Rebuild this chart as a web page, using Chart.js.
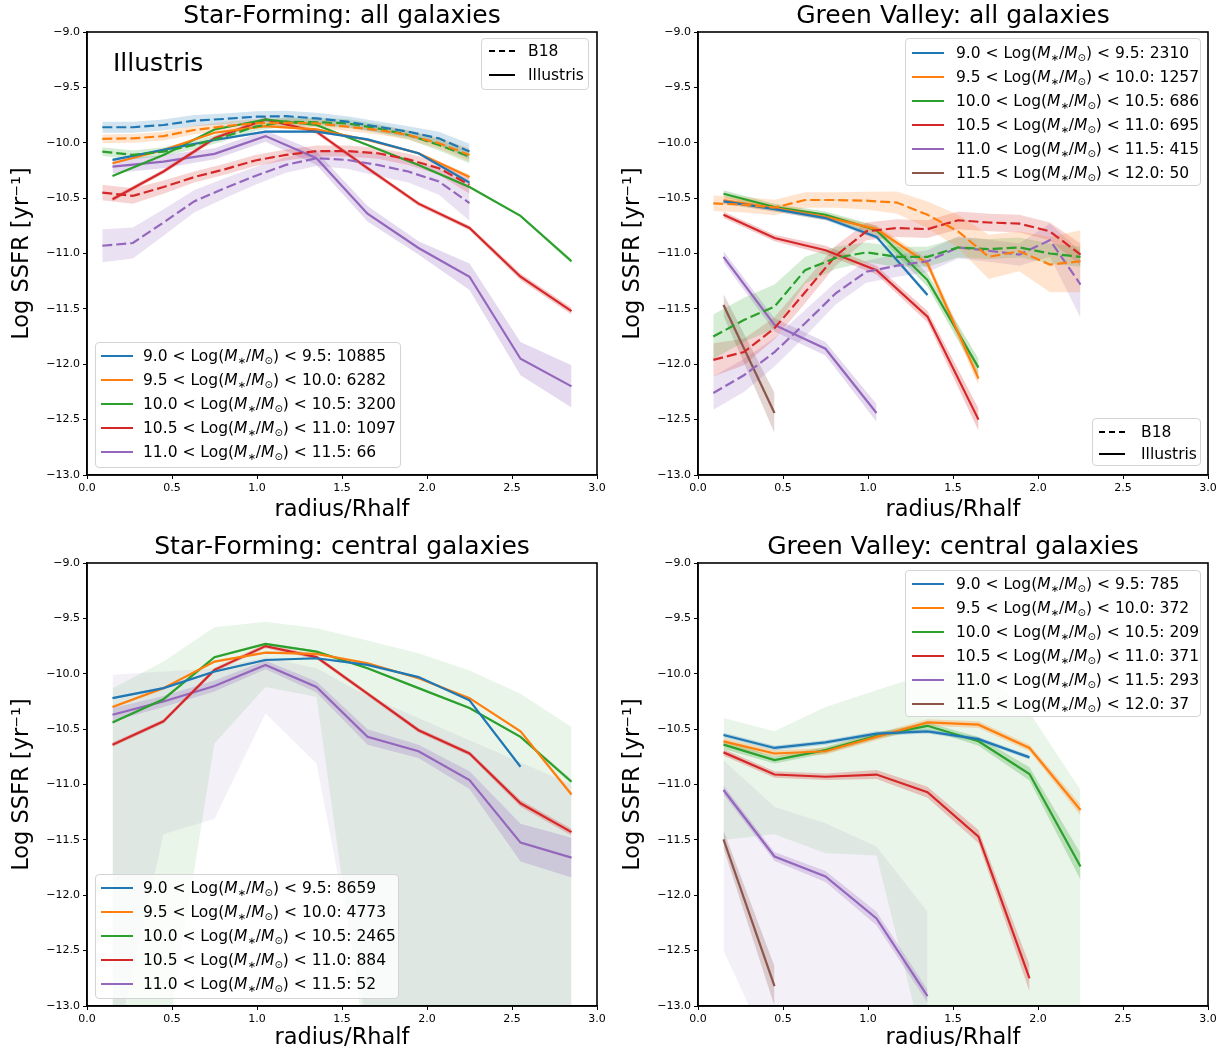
<!DOCTYPE html>
<html>
<head>
<meta charset="utf-8">
<script src="https://cdn.jsdelivr.net/npm/chart.js@4.4.1/dist/chart.umd.min.js"></script>
<style>
  body { margin: 0; background: #fff; font-family: "DejaVu Sans", sans-serif; }
  #wrap { position: relative; width: 1231px; height: 1055px; overflow: hidden; }
  canvas { position: absolute; }
  .leg { position: absolute; border: 1px solid #d4d4d4; border-radius: 4px; background: rgba(255,255,255,0.8);
         font-size: 15.5px; color: #000; box-sizing: border-box; z-index: 5; }
  .row { position: absolute; left: 0; height: 24px; line-height: 24px; white-space: nowrap; }
  .sw { position: absolute; top: 11px; height: 0; }
  .tx { position: absolute; top: 0; }
  sub { font-size: 10px; vertical-align: -3px; line-height: 0; }
  .note { position: absolute; left: 113px; top: 48px; font-size: 25px; z-index: 5; }
</style>
</head>
<body>
<div id="wrap">
  <canvas id="tl" width="615" height="527" style="left:0;top:0"></canvas>
  <canvas id="tr" width="620" height="527" style="left:611px;top:0"></canvas>
  <canvas id="bl" width="615" height="527" style="left:0;top:528px"></canvas>
  <canvas id="br" width="620" height="527" style="left:611px;top:528px"></canvas>
  <div class="note">Illustris</div>
</div>
<script>
// radial bins
const rIll = [0.15, 0.45, 0.75, 1.05, 1.35, 1.65, 1.95, 2.25, 2.55, 2.85];
const rB18 = [0.09, 0.27, 0.45, 0.63, 0.81, 0.99, 1.17, 1.35, 1.53, 1.71, 1.89, 2.07, 2.25];

const colors = ["#1f77b4", "#ff7f0e", "#2ca02c", "#d62728", "#9467bd", "#8c564b"];
const massLo = ["9.0", "9.5", "10.0", "10.5", "11.0", "11.5"];
const massHi = ["9.5", "10.0", "10.5", "11.0", "11.5", "12.0"];

// counts per panel
const sfAllCounts = [10885, 6282, 3200, 1097, 66];
const gvAllCounts = [2310, 1257, 686, 695, 415, 50];
const sfCenCounts = [8659, 4773, 2465, 884, 52];
const gvCenCounts = [785, 372, 209, 371, 293, 37];

// Star-Forming: all galaxies
const sfAllB18 = [
  [-9.86, -9.86, -9.84, -9.80, -9.785, -9.765, -9.76, -9.78, -9.81, -9.855, -9.90, -9.96, -10.08],
  [-9.965, -9.96, -9.94, -9.885, -9.85, -9.825, -9.82, -9.825, -9.855, -9.885, -9.93, -10.005, -10.11],
  [-10.08, -10.11, -10.08, -10.02, -9.945, -9.855, -9.81, -9.815, -9.825, -9.87, -9.93, -10.02, -10.125],
  [-10.45, -10.48, -10.40, -10.31, -10.24, -10.16, -10.11, -10.075, -10.075, -10.095, -10.15, -10.23, -10.38],
  [-10.93, -10.905, -10.72, -10.53, -10.41, -10.30, -10.20, -10.14, -10.155, -10.20, -10.26, -10.35, -10.545]
];
const sfAllB18Err = [
  [0.05, 0.05, 0.05, 0.05, 0.05, 0.05, 0.05, 0.05, 0.05, 0.05, 0.05, 0.06, 0.07],
  [0.04, 0.04, 0.04, 0.04, 0.04, 0.04, 0.04, 0.04, 0.04, 0.04, 0.04, 0.05, 0.06],
  [0.04, 0.04, 0.04, 0.04, 0.04, 0.04, 0.04, 0.04, 0.04, 0.04, 0.04, 0.05, 0.06],
  [0.07, 0.07, 0.06, 0.05, 0.05, 0.05, 0.05, 0.05, 0.05, 0.05, 0.05, 0.06, 0.08],
  [0.15, 0.14, 0.12, 0.10, 0.09, 0.08, 0.07, 0.07, 0.08, 0.10, 0.10, 0.12, 0.16]
];
const sfAllIll = [
  [-10.155, -10.065, -9.975, -9.90, -9.90, -9.97, -10.095, -10.36],
  [-10.185, -10.065, -9.91, -9.85, -9.88, -9.975, -10.095, -10.31],
  [-10.30, -10.11, -9.88, -9.79, -9.84, -10.02, -10.20, -10.40, -10.66, -11.07],
  [-10.51, -10.26, -9.96, -9.79, -9.90, -10.23, -10.55, -10.77, -11.21, -11.52],
  [-10.215, -10.17, -10.10, -9.94, -10.14, -10.64, -10.95, -11.21, -11.95, -12.20]
];
const sfAllIllErr = [
  [0.01, 0.01, 0.01, 0.01, 0.01, 0.01, 0.01, 0.02],
  [0.01, 0.01, 0.01, 0.01, 0.01, 0.01, 0.01, 0.02],
  [0.01, 0.01, 0.01, 0.01, 0.01, 0.01, 0.01, 0.01, 0.01, 0.02],
  [0.02, 0.02, 0.02, 0.02, 0.02, 0.02, 0.02, 0.02, 0.03, 0.03],
  [0.06, 0.06, 0.05, 0.05, 0.06, 0.07, 0.06, 0.12, 0.15, 0.19]
];

// Green Valley: all galaxies
const gvAllB18 = [
  null,
  [-10.547, -10.56, -10.585, -10.517, -10.517, -10.523, -10.54, -10.65, -10.80, -11.03, -10.98, -11.10, -11.07],
  [-11.75, -11.60, -11.48, -11.15, -11.04, -10.99, -11.03, -11.03, -10.945, -10.96, -10.945, -11.00, -11.03],
  [-11.96, -11.89, -11.675, -11.35, -11.02, -10.80, -10.77, -10.78, -10.70, -10.72, -10.73, -10.80, -11.01],
  [-12.26, -12.10, -11.89, -11.63, -11.36, -11.165, -11.11, -11.07, -10.945, -10.975, -11.01, -10.88, -11.28]
];
const gvAllB18Err = [
  null,
  [0.07, 0.07, 0.07, 0.07, 0.07, 0.08, 0.10, 0.12, 0.15, 0.20, 0.18, 0.25, 0.28],
  [0.20, 0.20, 0.20, 0.12, 0.10, 0.09, 0.09, 0.09, 0.09, 0.09, 0.09, 0.09, 0.09],
  [0.15, 0.12, 0.10, 0.10, 0.09, 0.08, 0.08, 0.08, 0.08, 0.08, 0.08, 0.08, 0.10],
  [0.15, 0.15, 0.13, 0.12, 0.10, 0.10, 0.10, 0.10, 0.10, 0.10, 0.10, 0.15, 0.30]
];
const gvAllIll = [
  [-10.53, -10.60, -10.68, -10.85, -11.375],
  [-10.52, -10.59, -10.67, -10.78, -11.09, -12.13],
  [-10.46, -10.58, -10.65, -10.79, -11.24, -12.03],
  [-10.65, -10.86, -10.97, -11.15, -11.57, -12.50],
  [-11.03, -11.645, -11.86, -12.44],
  [-11.465, -12.44]
];
const gvAllIllErr = [
  [0.02, 0.02, 0.02, 0.02, 0.02],
  [0.03, 0.03, 0.03, 0.03, 0.04, 0.06],
  [0.03, 0.03, 0.03, 0.04, 0.06, 0.08],
  [0.03, 0.03, 0.04, 0.04, 0.05, 0.10],
  [0.05, 0.06, 0.06, 0.08],
  [0.10, 0.18]
];

// Star-Forming: central galaxies
const sfCenIll = [
  [-10.22, -10.13, -9.98, -9.876, -9.86, -9.92, -10.03, -10.24, -10.84],
  [-10.30, -10.13, -9.89, -9.81, -9.82, -9.905, -10.04, -10.22, -10.52, -11.09],
  [-10.44, -10.23, -9.85, -9.73, -9.80, -9.95, -10.13, -10.31, -10.57, -10.975],
  [-10.64, -10.43, -9.965, -9.75, -9.85, -10.18, -10.51, -10.72, -11.17, -11.43],
  [-10.37, -10.25, -10.11, -9.92, -10.12, -10.57, -10.70, -10.96, -11.525, -11.66]
];
const sfCenIllErr = [
  [0.01, 0.01, 0.01, 0.01, 0.01, 0.01, 0.01, 0.01, 0.01],
  [0.01, 0.01, 0.01, 0.01, 0.01, 0.01, 0.01, 0.01, 0.01, 0.02],
  [0.01, 0.01, 0.01, 0.01, 0.01, 0.01, 0.01, 0.01, 0.01, 0.02],
  [0.02, 0.02, 0.02, 0.02, 0.02, 0.02, 0.02, 0.02, 0.03, 0.03],
  [0.06, 0.05, 0.05, 0.04, 0.05, 0.07, 0.06, 0.08, 0.17, 0.18]
];
const sfCenGreenHi = [-10.13, -9.89, -9.58, -9.53, -9.59, -9.70, -9.815, -9.97, -10.18, -10.48];
const sfCenGreenLo = [-13.5, -13.5, -10.63, -10.12, -10.21, -13.5, -13.5, -13.5, -13.5, -13.5];
const sfCenPurpleHi = [-10.01, -9.98, -9.95, -9.85, -9.95, -10.2, -10.4, -10.6, -10.8, -11.0];
const sfCenPurpleLo = [-13.5, -11.45, -11.31, -10.36, -10.81, -13.2, -13.5, -13.5, -13.5, -13.5];

// Green Valley: central galaxies
const gvCenIll = [
  [-10.553, -10.67, -10.62, -10.54, -10.52, -10.59, -10.755],
  [-10.61, -10.72, -10.70, -10.57, -10.44, -10.46, -10.67, -11.23],
  [-10.64, -10.78, -10.69, -10.56, -10.47, -10.61, -10.905, -11.74],
  [-10.71, -10.91, -10.93, -10.91, -11.07, -11.47, -12.75],
  [-11.05, -11.65, -11.83, -12.21, -12.91],
  [-11.495, -12.82]
];
const gvCenIllErr = [
  [0.02, 0.02, 0.02, 0.02, 0.02, 0.02, 0.02],
  [0.03, 0.03, 0.03, 0.03, 0.03, 0.03, 0.03, 0.05],
  [0.04, 0.03, 0.03, 0.03, 0.03, 0.04, 0.06, 0.12],
  [0.03, 0.03, 0.03, 0.04, 0.05, 0.06, 0.12],
  [0.04, 0.04, 0.05, 0.06, 0.06],
  [0.08, 0.18]
];
const gvCenGreenHi = [-10.40, -10.52, -10.30, -10.15, -10.0, -9.95, -10.35, -11.05];
const gvCenGreenLo = [-11.5, -11.45, -11.62, -11.64, -13.5, -13.5, -13.5, -13.5];
const gvCenPurpleHi = [-10.78, -11.2, -11.35, -11.56, -12.15];
const gvCenPurpleLo = [-12.5, -13.5, -13.5, -13.5, -13.5];

const FONT = "DejaVu Sans";

function pts(xs, ys) {
  return ys.map((y, i) => ({ x: xs[i], y: y }));
}

function rgba(hex, a) {
  const n = parseInt(hex.slice(1), 16);
  return "rgba(" + (n >> 16) + "," + ((n >> 8) & 255) + "," + (n & 255) + "," + a + ")";
}

function band(xs, lo, hi, color, alpha, order) {
  return [
    { data: pts(xs, lo), borderWidth: 0, pointRadius: 0, fill: false, order: order },
    { data: pts(xs, hi), borderWidth: 0, pointRadius: 0, fill: "-1",
      backgroundColor: rgba(color, alpha), order: order }
  ];
}

function errBand(xs, ys, err, color, alpha) {
  const lo = ys.map((y, i) => y - err[i]);
  const hi = ys.map((y, i) => y + err[i]);
  return band(xs, lo, hi, color, alpha, 2);
}

function line(xs, ys, color, dashed) {
  return {
    data: pts(xs, ys), borderColor: color, borderWidth: 2.2, pointRadius: 0,
    fill: false, tension: 0, borderDash: dashed ? [10, 4] : [], order: 1
  };
}

// axes frame on all four sides + panel title
const framePlugin = {
  id: "frame",
  afterDraw(chart) {
    const a = chart.chartArea, ctx = chart.ctx;
    ctx.save();
    ctx.strokeStyle = "#000";
    ctx.lineWidth = 1.6;
    ctx.strokeRect(a.left, a.top, a.right - a.left, a.bottom - a.top);
    ctx.fillStyle = "#000";
    ctx.font = "25px '" + FONT + "'";
    ctx.textAlign = "center";
    ctx.textBaseline = "middle";
    ctx.fillText(chart.options.panelTitle, (a.left + a.right) / 2, a.top - 16);
    ctx.restore();
  }
};

function makePanel(id, title, padTop, padRight, xAxisH, datasets) {
  new Chart(document.getElementById(id), {
    type: "line",
    data: { datasets: datasets },
    plugins: [framePlugin],
    options: {
      panelTitle: title,
      responsive: false,
      animation: false,
      devicePixelRatio: 1,
      layout: { padding: { top: padTop, right: padRight, left: 0, bottom: 0 } },
      plugins: { legend: { display: false }, tooltip: { enabled: false } },
      scales: {
        x: {
          type: "linear", min: 0, max: 3,
          ticks: { stepSize: 0.5, color: "#000", font: { family: FONT, size: 11 }, padding: 3,
                   maxRotation: 0, callback: v => v.toFixed(1) },
          grid: { drawOnChartArea: false, tickLength: 4, color: "#000" },
          border: { color: "#000", width: 1.6 },
          title: { display: true, text: "radius/Rhalf", color: "#000",
                   font: { family: FONT, size: 22.5 }, padding: { top: 0, bottom: 3 } },
          afterFit: s => { s.height = xAxisH; }
        },
        y: {
          type: "linear", min: -13, max: -9,
          ticks: { stepSize: 0.5, color: "#000", font: { family: FONT, size: 11 }, padding: 3,
                   callback: v => (v < 0 ? "\u2212" : "") + Math.abs(v).toFixed(1) },
          grid: { drawOnChartArea: false, tickLength: 4, color: "#000" },
          border: { color: "#000", width: 1.6 },
          title: { display: true, text: "Log SSFR [yr\u207B\u00B9]", color: "#000",
                   font: { family: FONT, size: 22.5 }, padding: { top: 9, bottom: 0 } },
          afterFit: s => { s.width = 87; }
        }
      }
    }
  });
}

// build datasets for each panel: wide bands, error bands, then lines
function panelSets(b18, b18Err, ill, illErr, wide) {
  let sets = [];
  (wide || []).forEach(w => { sets = sets.concat(band(rIll, w.lo, w.hi, w.color, 0.1, 3)); });
  if (b18) b18.forEach((s, i) => { if (s) sets = sets.concat(errBand(rB18, s, b18Err[i], colors[i], 0.2)); });
  ill.forEach((s, i) => { sets = sets.concat(errBand(rIll, s, illErr[i], colors[i], 0.25)); });
  if (b18) b18.forEach((s, i) => { if (s) sets.push(line(rB18, s, colors[i], true)); });
  ill.forEach((s, i) => { sets.push(line(rIll, s, colors[i], false)); });
  return sets;
}

makePanel("tl", "Star-Forming: all galaxies", 32, 18, 52,
  panelSets(sfAllB18, sfAllB18Err, sfAllIll, sfAllIllErr));
makePanel("tr", "Green Valley: all galaxies", 32, 23, 52,
  panelSets(gvAllB18, gvAllB18Err, gvAllIll, gvAllIllErr));
makePanel("bl", "Star-Forming: central galaxies", 35, 18, 49,
  panelSets(null, null, sfCenIll, sfCenIllErr, [
    { lo: sfCenGreenLo, hi: sfCenGreenHi, color: colors[2] },
    { lo: sfCenPurpleLo, hi: sfCenPurpleHi, color: colors[4] }
  ]));
makePanel("br", "Green Valley: central galaxies", 35, 23, 49,
  panelSets(null, null, gvCenIll, gvCenIllErr, [
    { lo: gvCenGreenLo, hi: gvCenGreenHi, color: colors[2] },
    { lo: gvCenPurpleLo, hi: gvCenPurpleHi, color: colors[4] }
  ]));

// legends
const wrap = document.getElementById("wrap");

function massLabel(i, n) {
  return massLo[i] + " &lt; Log(<i>M</i><sub>\u2217</sub>/<i>M</i><sub>\u2299</sub>) &lt; " + massHi[i] + ": " + n;
}

function addLegend(box, rows) {
  const d = document.createElement("div");
  d.className = "leg";
  d.style.left = box.x + "px"; d.style.top = box.y + "px";
  d.style.width = box.w + "px"; d.style.height = box.h + "px";
  rows.forEach((r, k) => {
    const row = document.createElement("div");
    row.className = "row";
    row.style.top = (box.first + k * box.step) + "px";
    const sw = document.createElement("div");
    sw.className = "sw";
    sw.style.left = box.swX + "px";
    sw.style.width = box.swW + "px";
    sw.style.borderTop = "2.5px " + (r.dashed ? "dashed " : "solid ") + r.color;
    const tx = document.createElement("div");
    tx.className = "tx";
    tx.style.left = box.txX + "px";
    tx.innerHTML = r.html;
    row.appendChild(sw); row.appendChild(tx);
    d.appendChild(row);
  });
  wrap.appendChild(d);
}

function massRows(counts) {
  return counts.map((n, i) => ({ color: colors[i], html: massLabel(i, n) }));
}
const typeRows = [{ color: "#000", dashed: true, html: "B18" }, { color: "#000", html: "Illustris" }];

addLegend({ x: 95, y: 342, w: 306, h: 126, first: 1, step: 24, swX: 5, swW: 32, txX: 47 }, massRows(sfAllCounts));
addLegend({ x: 481, y: 38, w: 108, h: 52, first: 0, step: 24, swX: 7, swW: 26, txX: 46 }, typeRows);
addLegend({ x: 905, y: 38, w: 296, h: 148, first: 2, step: 24, swX: 6, swW: 32, txX: 50 }, massRows(gvAllCounts));
addLegend({ x: 1092, y: 418, w: 109, h: 48, first: 1, step: 22, swX: 6, swW: 26, txX: 48 }, typeRows);
addLegend({ x: 95, y: 874, w: 304, h: 125, first: 1, step: 24, swX: 5, swW: 32, txX: 47 }, massRows(sfCenCounts));
addLegend({ x: 905, y: 570, w: 296, h: 147, first: 1, step: 24, swX: 6, swW: 32, txX: 50 }, massRows(gvCenCounts));
</script>
</body>
</html>
